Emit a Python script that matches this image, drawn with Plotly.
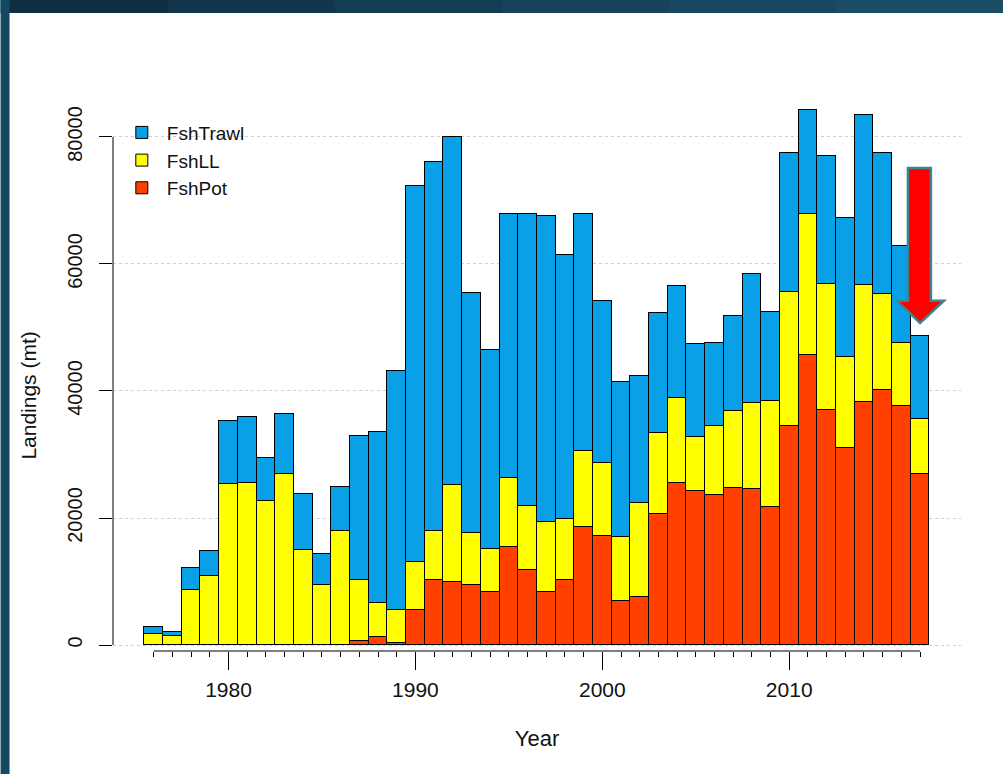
import plotly.graph_objects as go

years = list(range(1976, 2018))

# Landings (mt) by gear
fsh_pot = [0, 0, 0, 0, 0, 0, 0, 0, 0, 0, 0, 560, 1300, 300,
           5500, 10300, 9900, 9500, 8400, 15500, 11800, 8400, 10300, 18600,
           17100, 7000, 7600, 20600, 25500, 24200, 23700, 24800, 24600, 21800,
           34500, 45700, 37000, 31100, 38300, 40200, 37700, 27000]
fsh_ll = [1700, 1400, 8600, 10900, 25400, 25500, 22600, 26900, 14900, 9500, 17900, 9740, 5300, 5200,
          7600, 7600, 15300, 8100, 6700, 10800, 10100, 10900, 9600, 11900,
          11500, 10000, 14700, 12800, 13400, 8600, 10800, 12000, 13500, 16700,
          21100, 22100, 19900, 14300, 18400, 15100, 9800, 8600]
fsh_trawl = [1100, 700, 3500, 3900, 9800, 10400, 6800, 9400, 8900, 4900, 7000, 22600, 27000, 37600,
             59200, 58200, 54800, 37800, 31300, 41500, 45900, 48300, 41500, 37300,
             25500, 24400, 20000, 18900, 17600, 14600, 13100, 15000, 20400, 14000,
             21900, 16400, 20100, 21800, 26700, 22200, 15300, 13100]

y_ticks = [0, 20000, 40000, 60000, 80000]
x_major = [1980, 1990, 2000, 2010]

series = [
    ("FshPot", fsh_pot, "#ff4000"),
    ("FshLL", fsh_ll, "#ffff00"),
    ("FshTrawl", fsh_trawl, "#0aa0e8"),
]

FONT = "Liberation Sans, Arial, sans-serif"

fig = go.Figure()
for name, vals, col in series:
    fig.add_trace(go.Bar(
        x=years, y=vals, name=name, width=1,
        marker=dict(color=col, line=dict(color="black", width=1)),
    ))

# axis lines (R style: only spanning the tick range)
fig.add_shape(type="line", xref="paper", yref="y", x0=0, x1=0, y0=y_ticks[0], y1=y_ticks[-1],
              line=dict(color="black", width=1))
fig.add_shape(type="line", xref="x", yref="paper", x0=years[0], x1=years[-1], y0=0, y1=0,
              line=dict(color="black", width=1))

# red arrow annotation (decoration)
ax_l, ax_r, hx_l, hx_r, tip_x = 2016.35, 2017.58, 2015.76, 2018.28, 2017.0
ay_top, ay_head, ay_tip = 75100, 54200, 50700
arrow_path = (f"M {ax_l},{ay_top} L {ax_r},{ay_top} L {ax_r},{ay_head} L {hx_r},{ay_head} "
              f"L {tip_x},{ay_tip} L {hx_l},{ay_head} L {ax_l},{ay_head} Z")
fig.add_shape(type="path", xref="x", yref="y", path=arrow_path,
              fillcolor="#ff0000", line=dict(color="#3a8792", width=2.5))

# slide frame (dark border top and left), top band darker on the left
band_cols = ["#102e43", "#12364c", "#143d54", "#16435b", "#184861", "#1a4c65"]
x_left, x_right = -0.1326, 1.0495
step = (x_right - x_left) / len(band_cols)
for i, c in enumerate(band_cols):
    fig.add_shape(type="rect", xref="paper", yref="paper",
                  x0=x_left + i * step, x1=x_left + (i + 1) * step + 0.002, y0=1.1373, y1=1.17,
                  fillcolor=c, line=dict(width=0), layer="above")
fig.add_shape(type="rect", xref="paper", yref="paper", x0=-0.1326, x1=-0.1220, y0=-0.23, y1=1.17,
              fillcolor="#134a62", line=dict(width=0), layer="above")

# y-axis title (centred on the 0-80000 axis like the R original)
fig.add_annotation(text="Landings (mt)", xref="paper", yref="y", x=-0.0996, y=39200,
                   xanchor="center", yanchor="middle", textangle=-90, showarrow=False,
                   font=dict(size=21, family=FONT, color="#111111"))

fig.update_layout(
    width=1003, height=774,
    margin=dict(l=112.5, r=42, t=90, b=123),
    paper_bgcolor="white", plot_bgcolor="white",
    barmode="stack", bargap=0,
    font=dict(family=FONT, size=21, color="#111111"),
    showlegend=True,
    legend=dict(x=0.0045, y=0.958, xanchor="left", yanchor="top", traceorder="reversed",
                bgcolor="rgba(0,0,0,0)", font=dict(size=19), itemwidth=40,
                tracegroupgap=0),
    xaxis=dict(
        range=[1973.82, 2019.19], showline=False, showgrid=False, zeroline=False,
        tickmode="array", tickvals=x_major, ticktext=[str(v) for v in x_major],
        ticks="outside", ticklen=18, tickcolor="black", tickwidth=1,
        minor=dict(tickmode="array", tickvals=years, ticks="outside", ticklen=5,
                   tickcolor="black", tickwidth=1, showgrid=False),
        ticklabelstandoff=2,
        tickfont=dict(size=21),
        title=dict(text="Year", font=dict(size=22), standoff=30),
    ),
    yaxis=dict(
        range=[-945, 87400], showline=False, zeroline=False,
        showgrid=True, gridcolor="#cfcfcf", griddash="dot", gridwidth=1,
        tickmode="array", tickvals=y_ticks, ticktext=[str(v) for v in y_ticks],
        ticks="outside", ticklen=13, tickcolor="black", tickwidth=1,
        tickangle=-90, ticklabelstandoff=9,
        tickfont=dict(size=20),
    ),
)

fig.write_html("out.html", config={"displayModeBar": False},
               post_script="document.body.style.margin='0';")
